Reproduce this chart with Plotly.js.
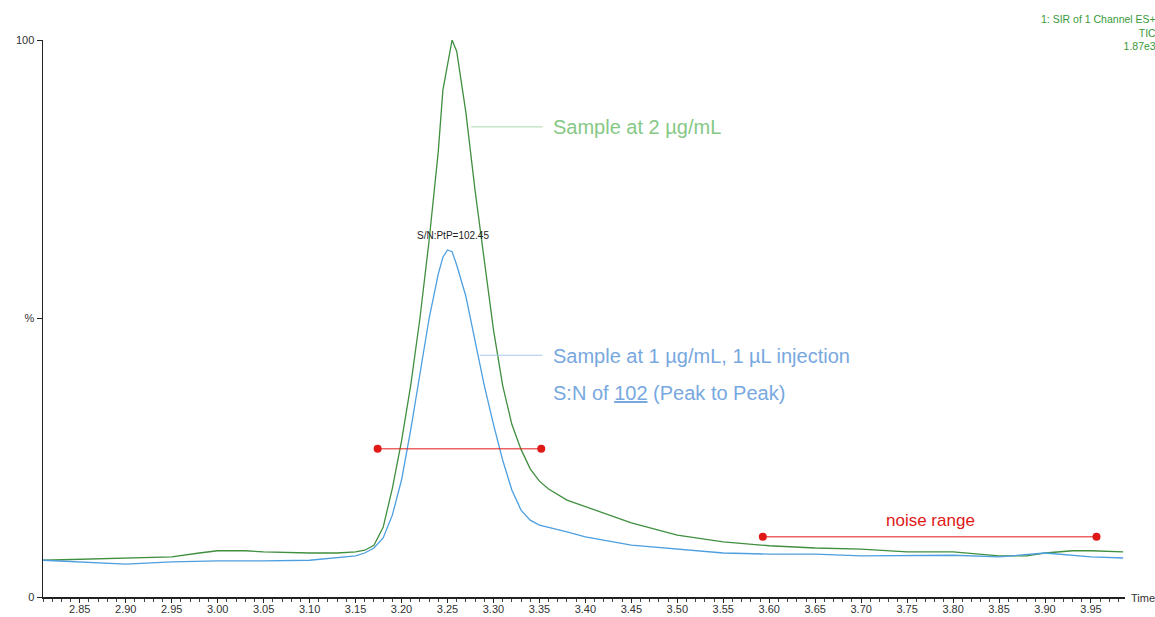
<!DOCTYPE html>
<html>
<head>
<meta charset="utf-8">
<script src="https://cdn.plot.ly/plotly-3.0.1.min.js"></script>
<style>html,body{margin:0;padding:0;background:#fff;}#chart{width:1155px;height:617px;}</style>
</head>
<body>
<div id="chart"></div>
<script>
// Green trace: Sample at 2 µg/mL
const timeGreen = [2.81,2.90,2.95,2.98,3.00,3.03,3.05,3.10,3.13,3.15,3.16,3.17,3.18,3.19,3.20,3.21,3.22,3.23,3.24,3.245,3.255,3.26,3.27,3.28,3.29,3.30,3.31,3.32,3.33,3.34,3.35,3.36,3.38,3.40,3.45,3.50,3.55,3.60,3.65,3.70,3.75,3.80,3.85,3.88,3.90,3.93,3.95,3.985];
const pctGreen  = [6.6,7.0,7.2,7.9,8.3,8.3,8.1,7.9,7.9,8.1,8.4,9.3,12.5,19.5,28,38,50,64,80,91,100,98,87,73,60,48,38,31,26.5,23,20.8,19.4,17.4,16.2,13.3,11.1,9.9,9.2,8.8,8.6,8.1,8.1,7.4,7.4,7.9,8.3,8.3,8.1];
// Blue trace: Sample at 1 µg/mL, 1 µL injection
const timeBlue = [2.81,2.85,2.90,2.95,3.00,3.05,3.10,3.15,3.16,3.17,3.18,3.19,3.20,3.21,3.22,3.23,3.24,3.245,3.25,3.255,3.26,3.27,3.28,3.29,3.30,3.31,3.32,3.33,3.34,3.35,3.38,3.40,3.45,3.50,3.55,3.60,3.65,3.70,3.75,3.80,3.85,3.90,3.95,3.985];
const pctBlue  = [6.6,6.3,5.9,6.3,6.5,6.5,6.6,7.4,7.9,8.8,10.6,14.7,21,30,40,50,58,61,62.3,62,59.6,54,46,38,31,24.6,19.2,15.6,13.8,12.9,11.7,10.8,9.3,8.6,7.9,7.7,7.7,7.4,7.5,7.5,7.2,7.9,7.2,7.0];
// Peak width marker and noise range marker
const widthX = [3.174, 3.352];
const widthY = [26.6, 26.6];
const noiseX = [3.593, 3.956];
const noiseY = [10.8, 10.8];
// Leader lines to labels
const leadGreenX = [3.276, 3.3535];
const leadGreenY = [84.4, 84.4];
const leadBlueX = [3.285, 3.3535];
const leadBlueY = [43.4, 43.4];
// Axis ticks
const yTickVals = [0, 50, 100];
const yTickText = ['0', '%', '100'];

const FONT = 'Liberation Sans, Arial, sans-serif';
const greenLine = '#3f8f3f';
const blueLine = '#4d9fe0';
const greenText = '#86c886';
const blueText = '#78a8e0';
const red = '#e01818';

const traces = [
  {x: timeGreen, y: pctGreen, type: 'scatter', mode: 'lines', line: {color: greenLine, width: 1.3}, hoverinfo: 'skip'},
  {x: timeBlue, y: pctBlue, type: 'scatter', mode: 'lines', line: {color: blueLine, width: 1.3}, hoverinfo: 'skip'},
  {x: widthX, y: widthY, type: 'scatter', mode: 'lines+markers', line: {color: red, width: 1}, marker: {color: red, size: 8}},
  {x: noiseX, y: noiseY, type: 'scatter', mode: 'lines+markers', line: {color: red, width: 1}, marker: {color: red, size: 8}},
  {x: leadGreenX, y: leadGreenY, type: 'scatter', mode: 'lines', line: {color: '#a8d8a8', width: 1}},
  {x: leadBlueX, y: leadBlueY, type: 'scatter', mode: 'lines', line: {color: '#a8c8ec', width: 1}}
];

const layout = {
  width: 1155, height: 617,
  margin: {l: 43, r: 30, t: 40, b: 20},
  paper_bgcolor: '#fff', plot_bgcolor: '#fff',
  showlegend: false,
  font: {family: FONT, size: 11, color: '#333'},
  xaxis: {
    range: [2.81, 3.987], showgrid: false, zeroline: false,
    showline: true, linecolor: '#222', linewidth: 1.5,
    tickmode: 'linear', tick0: 2.85, dtick: 0.05, tickformat: '.2f',
    ticks: 'outside', ticklen: 4, tickcolor: '#222', tickwidth: 1,
    ticklabelstandoff: -3,
    minor: {dtick: 0.01, tick0: 2.8, ticks: 'outside', ticklen: 3, tickcolor: '#444', tickwidth: 1},
    tickfont: {family: FONT, size: 11, color: '#333'}
  },
  yaxis: {
    range: [0, 100], showgrid: false, zeroline: false,
    showline: true, linecolor: '#222', linewidth: 1.5,
    tickmode: 'array', tickvals: yTickVals, ticktext: yTickText,
    ticks: 'outside', ticklen: 5, tickcolor: '#222',
    tickfont: {family: FONT, size: 11, color: '#333'}
  },
  annotations: [
    {xref: 'paper', yref: 'paper', x: 1.0305, y: 1.052, xanchor: 'right', yanchor: 'top', showarrow: false,
     align: 'right', text: '1: SIR of 1 Channel ES+<br>TIC<br>1.87e3', font: {family: FONT, size: 10.5, color: '#3a9a3a'}},
    {xref: 'paper', yref: 'paper', x: 1.004, y: -0.002, xanchor: 'left', yanchor: 'middle', showarrow: false,
     text: 'Time', font: {family: FONT, size: 11, color: '#333'}},
    {xref: 'x', yref: 'y', x: 3.2555, y: 63.5, xanchor: 'center', yanchor: 'bottom', showarrow: false,
     text: 'S/N:PtP=102.45', font: {family: FONT, size: 10, color: '#222'}},
    {xref: 'x', yref: 'y', x: 3.363, y: 84.4, xanchor: 'left', yanchor: 'middle', showarrow: false,
     text: 'Sample at 2 µg/mL', font: {family: FONT, size: 20, color: greenText}},
    {xref: 'x', yref: 'y', x: 3.363, y: 43.2, xanchor: 'left', yanchor: 'middle', showarrow: false,
     text: 'Sample at 1 µg/mL, 1 µL injection', font: {family: FONT, size: 20, color: blueText}},
    {xref: 'x', yref: 'y', x: 3.363, y: 36.6, xanchor: 'left', yanchor: 'middle', showarrow: false,
     text: 'S:N of <u>102</u> (Peak to Peak)', font: {family: FONT, size: 20, color: blueText}},
    {xref: 'x', yref: 'y', x: 3.775, y: 13.7, xanchor: 'center', yanchor: 'middle', showarrow: false,
     text: 'noise range', font: {family: FONT, size: 17, color: red}}
  ]
};

Plotly.newPlot('chart', traces, layout, {staticPlot: true, displayModeBar: false});
</script>
</body>
</html>
